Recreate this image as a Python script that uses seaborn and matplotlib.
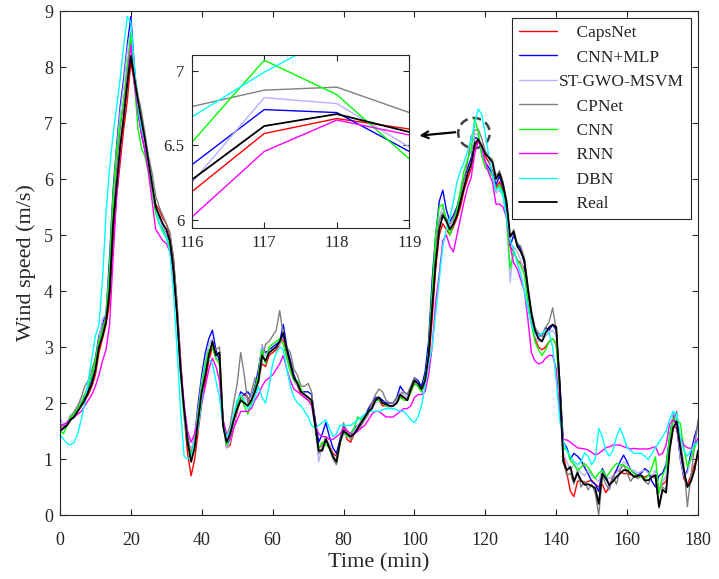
import numpy as np
import pandas as pd
import matplotlib
matplotlib.use('Agg')
import matplotlib.pyplot as plt
from matplotlib.patches import Ellipse
import seaborn as sns

# ==================== data (1 point per minute) ====================
time_min = list(range(0, 181))

real = [1.50, 1.55, 1.60, 1.70, 1.75, 1.85, 1.95, 2.05, 2.20, 2.35,
        2.60, 3.00, 3.20, 3.45, 4.00, 5.20, 5.90, 6.60, 7.10, 7.70,
        8.20, 7.80, 7.40, 7.05, 6.70, 6.30, 5.90, 5.50, 5.35, 5.20,
        5.10, 4.90, 4.40, 3.60, 2.60, 1.90, 1.30, 0.95, 1.20, 1.70,
        2.20, 2.50, 2.85, 3.10, 2.85, 2.90, 1.60, 1.30, 1.45, 1.70,
        1.90, 2.05, 2.00, 1.95, 2.05, 2.20, 2.40, 2.85, 2.75, 2.90,
        2.95, 3.00, 3.10, 3.25, 2.95, 2.70, 2.45, 2.35, 2.20, 2.15,
        2.10, 2.05, 1.60, 1.15, 1.15, 1.35, 1.20, 1.05, 0.95, 1.30,
        1.50, 1.45, 1.40, 1.45, 1.55, 1.65, 1.75, 1.85, 1.90, 2.05,
        2.10, 2.00, 1.98, 1.95, 1.95, 2.00, 2.15, 2.10, 2.05, 2.25,
        2.40, 2.35, 2.25, 2.40, 2.85, 3.70, 4.50, 5.10, 5.35, 5.25,
        5.10, 5.20, 5.35, 5.60, 5.85, 6.10, 6.27, 6.63, 6.71, 6.59,
        6.45, 6.38, 6.30, 6.00, 6.10, 5.90, 5.60, 4.97, 5.06, 4.80,
        4.70, 4.55, 4.05, 3.60, 3.30, 3.15, 3.10, 3.25, 3.35, 3.40,
        3.36, 2.30, 0.95, 0.80, 0.86, 0.60, 0.75, 0.62, 0.54, 0.55,
        0.52, 0.48, 0.20, 0.74, 0.65, 0.54, 0.60, 0.68, 0.74, 0.80,
        0.80, 0.74, 0.68, 0.70, 0.71, 0.62, 0.62, 0.68, 0.71, 0.15,
        0.45, 0.40, 1.16, 1.55, 1.67, 1.20, 0.80, 0.50, 0.60, 0.80,
        1.15]

capsnet = [1.55, 1.60, 1.65, 1.72, 1.78, 1.85, 1.95, 2.05, 2.15, 2.30,
           2.50, 2.90, 3.15, 3.40, 3.80, 4.90, 5.70, 6.30, 6.90, 7.40,
           8.10, 7.70, 7.30, 7.00, 6.60, 6.20, 5.85, 5.55, 5.45, 5.30,
           5.20, 5.00, 4.60, 3.80, 2.80, 1.80, 1.10, 0.70, 1.00, 1.50,
           2.00, 2.40, 2.75, 3.00, 2.80, 2.70, 1.70, 1.20, 1.25, 1.55,
           1.85, 2.10, 2.15, 2.10, 2.00, 2.30, 2.45, 2.70, 2.65, 2.85,
           2.90, 2.95, 3.05, 3.15, 2.85, 2.65, 2.40, 2.30, 2.15, 2.10,
           2.05, 2.00, 1.70, 1.20, 1.25, 1.35, 1.25, 1.10, 1.05, 1.30,
           1.55, 1.35, 1.30, 1.45, 1.50, 1.60, 1.75, 1.85, 1.95, 2.05,
           2.05, 1.95, 1.95, 1.95, 1.95, 2.00, 2.10, 2.10, 2.05, 2.20,
           2.35, 2.30, 2.20, 2.35, 2.70, 3.50, 4.40, 5.00, 5.20, 5.10,
           5.00, 5.15, 5.30, 5.50, 5.80, 6.00, 6.19, 6.58, 6.68, 6.61,
           6.40, 6.30, 6.15, 5.85, 5.95, 5.80, 5.50, 4.80, 4.70, 4.55,
           4.50, 4.40, 3.90, 3.45, 3.15, 3.00, 2.95, 3.00, 3.10, 3.15,
           3.05, 2.30, 1.10, 0.75, 0.42, 0.33, 0.60, 0.62, 0.57, 0.60,
           0.62, 0.55, 0.50, 0.55, 0.40, 0.50, 0.70, 0.80, 0.78, 0.74,
           0.74, 0.72, 0.70, 0.68, 0.70, 0.68, 0.71, 0.70, 0.71, 0.45,
           0.55, 0.60, 1.20, 1.58, 1.55, 1.10, 0.65, 0.55, 0.70, 0.90,
           1.07]

cnn_mlp = [1.50, 1.55, 1.65, 1.75, 1.80, 1.90, 2.00, 2.10, 2.25, 2.45,
           2.80, 3.20, 3.40, 3.60, 4.60, 5.80, 6.60, 7.30, 7.80, 8.40,
           8.90, 8.00, 7.20, 6.80, 6.50, 6.20, 5.80, 5.50, 5.35, 5.15,
           5.00, 4.90, 4.50, 3.70, 2.70, 1.90, 1.40, 1.10, 1.40, 2.00,
           2.50, 2.90, 3.15, 3.30, 2.95, 2.75, 1.70, 1.25, 1.35, 1.65,
           2.00, 2.20, 2.15, 2.20, 2.10, 2.30, 2.60, 3.00, 2.90, 2.95,
           3.00, 3.05, 3.10, 3.40, 3.00, 2.75, 2.50, 2.35, 2.20, 2.20,
           2.20, 2.15, 1.70, 1.30, 1.45, 1.65, 1.40, 1.20, 1.10, 1.35,
           1.60, 1.50, 1.45, 1.55, 1.60, 1.65, 1.75, 1.90, 2.00, 2.10,
           2.10, 2.05, 2.00, 2.00, 2.00, 2.10, 2.30, 2.20, 2.15, 2.30,
           2.45, 2.40, 2.30, 2.55, 3.10, 4.20, 5.00, 5.60, 5.80, 5.45,
           5.25, 5.35, 5.50, 5.75, 6.00, 6.20, 6.37, 6.74, 6.72, 6.46,
           6.30, 6.20, 6.10, 5.90, 6.05, 5.85, 5.40, 4.80, 5.00, 4.85,
           4.75, 4.50, 4.00, 3.55, 3.30, 3.20, 3.20, 3.35, 3.30, 3.40,
           3.30, 2.40, 1.30, 1.20, 1.00, 1.10, 1.05, 0.98, 0.85, 0.74,
           0.60, 0.55, 0.42, 0.83, 0.70, 0.51, 0.65, 0.80, 0.95, 1.07,
           0.95, 0.80, 0.75, 0.71, 0.75, 0.83, 0.78, 0.60, 0.50, 0.70,
           0.75, 0.90, 1.40, 1.79, 1.60, 1.00, 0.68, 0.80, 1.10, 1.40,
           1.60]

st_gwo_msvm = [1.75, 1.60, 1.65, 1.80, 1.75, 1.85, 2.10, 2.15, 2.30, 2.50,
               2.75, 3.15, 3.50, 3.60, 4.40, 5.60, 6.50, 7.20, 7.70, 8.30,
               8.70, 7.90, 7.30, 6.90, 6.60, 6.20, 5.80, 5.40, 5.30, 5.15,
               5.00, 4.80, 4.30, 3.50, 2.50, 1.70, 1.35, 1.15, 1.40, 1.90,
               2.40, 2.75, 3.05, 3.15, 2.80, 2.70, 1.60, 1.20, 1.30, 1.60,
               1.90, 2.05, 2.10, 2.05, 2.10, 2.25, 2.50, 3.05, 2.85, 2.95,
               2.95, 3.00, 3.05, 3.20, 2.90, 2.65, 2.40, 2.30, 2.20, 2.10,
               2.10, 2.00, 1.55, 0.95, 1.25, 1.30, 1.25, 1.05, 0.90, 1.30,
               1.45, 1.40, 1.40, 1.50, 1.60, 1.70, 1.80, 1.85, 1.90, 2.00,
               2.05, 2.00, 1.95, 1.90, 1.95, 2.05, 2.20, 2.15, 2.10, 2.30,
               2.40, 2.30, 2.20, 2.40, 2.90, 3.90, 4.80, 5.30, 5.50, 5.30,
               5.15, 5.25, 5.40, 5.65, 5.95, 6.10, 6.25, 6.82, 6.78, 6.49,
               6.30, 6.10, 6.05, 5.75, 5.80, 5.70, 5.30, 4.15, 4.80, 4.70,
               4.55, 4.30, 3.85, 3.45, 3.20, 3.10, 3.10, 3.20, 3.25, 3.30,
               3.20, 2.20, 1.10, 0.95, 0.80, 0.90, 0.85, 0.75, 0.70, 0.80,
               0.70, 0.65, 0.60, 0.80, 0.70, 0.65, 0.70, 0.75, 0.85, 0.95,
               0.90, 0.80, 0.80, 0.75, 0.78, 0.80, 0.75, 0.70, 0.80, 0.40,
               0.60, 0.70, 1.30, 1.85, 1.70, 1.00, 0.70, 0.75, 1.00, 1.30,
               1.55]

cpnet = [1.55, 1.60, 1.65, 1.75, 1.85, 1.95, 2.10, 2.30, 2.40, 2.60,
         2.80, 3.10, 3.35, 3.55, 4.20, 5.30, 6.20, 6.90, 7.40, 8.00,
         8.50, 7.90, 7.50, 7.20, 6.80, 6.40, 6.10, 5.70, 5.50, 5.35,
         5.20, 5.05, 4.60, 3.80, 2.80, 1.90, 1.40, 1.10, 1.30, 1.80,
         2.30, 2.60, 2.90, 3.05, 2.95, 3.00, 1.70, 1.40, 1.60, 2.00,
         2.35, 2.90, 2.50, 2.00, 2.20, 2.45, 2.35, 2.75, 3.05, 3.10,
         3.20, 3.30, 3.65, 3.20, 3.00, 2.90, 2.60, 2.50, 2.30, 2.30,
         2.35, 2.20, 1.60, 1.10, 1.20, 1.40, 1.20, 1.00, 0.90, 1.25,
         1.65, 1.45, 1.35, 1.45, 1.50, 1.60, 1.70, 1.80, 2.00, 2.15,
         2.25, 2.20, 2.05, 2.00, 2.00, 2.10, 2.15, 2.20, 2.15, 2.30,
         2.45, 2.35, 2.20, 2.40, 2.85, 3.85, 4.80, 5.25, 5.40, 5.30,
         5.20, 5.30, 5.45, 5.70, 6.00, 6.30, 6.76, 6.87, 6.89, 6.72,
         6.50, 6.40, 6.35, 6.05, 6.15, 5.95, 5.55, 4.95, 5.10, 4.85,
         4.80, 4.60, 4.10, 3.65, 3.35, 3.25, 3.20, 3.35, 3.45, 3.70,
         3.30, 2.30, 0.95, 0.70, 0.75, 0.55, 0.80, 0.50, 0.60, 0.45,
         0.55, 0.40, 0.00, 0.70, 0.55, 0.45, 0.70, 0.55, 0.80, 0.90,
         0.75, 0.60, 0.70, 0.65, 0.70, 0.60, 0.55, 0.70, 0.65, 0.12,
         0.50, 0.45, 1.20, 1.70, 1.85, 1.30, 0.90, 0.15, 0.70, 1.20,
         1.70]

cnn = [1.50, 1.45, 1.60, 1.75, 1.80, 1.90, 2.00, 2.15, 2.30, 2.50,
       2.75, 3.10, 3.30, 3.50, 4.40, 5.70, 6.50, 7.00, 7.40, 8.00,
       8.60, 7.70, 6.90, 6.55, 6.40, 6.10, 5.80, 5.40, 5.20, 5.10,
       4.95, 4.80, 4.40, 3.60, 2.60, 1.80, 1.30, 1.05, 1.30, 1.80,
       2.30, 2.70, 2.95, 3.00, 2.80, 2.70, 1.60, 1.25, 1.40, 1.70,
       2.00, 2.15, 1.95, 1.80, 2.00, 2.25, 2.50, 2.95, 2.70, 3.00,
       3.05, 3.10, 3.15, 3.05, 2.80, 2.55, 2.40, 2.40, 2.25, 2.15,
       2.10, 2.00, 1.55, 1.20, 1.30, 1.25, 1.20, 1.05, 0.95, 1.30,
       1.50, 1.40, 1.45, 1.55, 1.75, 1.70, 1.75, 1.85, 1.90, 2.05,
       2.05, 2.00, 1.95, 1.95, 1.95, 2.00, 2.10, 2.05, 2.05, 2.20,
       2.35, 2.30, 2.20, 2.45, 2.90, 4.00, 5.00, 5.50, 5.55, 5.25,
       5.00, 5.20, 5.45, 5.80, 6.15, 6.35, 6.52, 7.07, 6.84, 6.41,
       6.20, 6.15, 6.05, 5.80, 5.90, 5.75, 5.30, 4.40, 4.70, 4.55,
       4.45, 4.30, 3.80, 3.40, 3.10, 2.95, 2.85, 2.95, 3.10, 3.15,
       3.05, 2.20, 1.20, 1.16, 0.98, 0.90, 0.80, 0.85, 0.92, 0.85,
       0.75, 0.65, 0.75, 0.80, 0.68, 0.75, 0.85, 0.92, 0.90, 0.89,
       0.85, 0.80, 0.74, 0.70, 0.68, 0.65, 0.70, 0.85, 1.04, 0.39,
       0.70, 0.86, 1.40, 1.73, 1.68, 1.64, 1.20, 0.86, 1.00, 1.20,
       1.34]

rnn = [1.60, 1.62, 1.65, 1.70, 1.75, 1.80, 1.85, 1.95, 2.05, 2.15,
       2.30, 2.50, 2.75, 2.95, 3.40, 4.60, 5.70, 6.50, 7.20, 7.80,
       8.40, 7.70, 7.20, 6.80, 6.50, 6.10, 5.60, 5.10, 5.00, 4.90,
       4.85, 4.70, 4.30, 3.60, 2.70, 2.00, 1.50, 1.30, 1.45, 1.70,
       2.00, 2.30, 2.60, 2.80, 2.65, 2.40, 1.70, 1.45, 1.35, 1.55,
       1.70, 1.85, 1.85, 1.85, 1.90, 2.05, 2.15, 2.30, 2.40, 2.45,
       2.50, 2.60, 2.70, 2.85, 2.60, 2.40, 2.25, 2.20, 2.15, 2.10,
       2.05, 1.95, 1.60, 1.45, 1.40, 1.40, 1.35, 1.35, 1.40, 1.45,
       1.55, 1.50, 1.45, 1.45, 1.50, 1.55, 1.60, 1.70, 1.80, 1.85,
       1.85, 1.80, 1.75, 1.75, 1.75, 1.80, 1.85, 1.90, 1.90, 1.95,
       2.10, 2.15, 2.15, 2.20, 2.50, 3.00, 3.80, 4.30, 4.90, 5.00,
       4.80, 4.70, 5.00, 5.30, 5.60, 5.85, 6.02, 6.46, 6.67, 6.57,
       6.30, 6.10, 5.95, 5.55, 5.55, 5.50, 5.30, 4.80, 4.50, 4.40,
       4.20, 4.00, 3.50, 2.90, 2.75, 2.70, 2.72, 2.80, 2.85, 2.85,
       2.60, 1.80, 1.35, 1.34, 1.30, 1.25, 1.20, 1.19, 1.18, 1.16,
       1.12, 1.07, 1.10, 1.15, 1.20, 1.22, 1.25, 1.25, 1.25, 1.22,
       1.20, 1.18, 1.19, 1.18, 1.18, 1.18, 1.18, 1.20, 1.22, 1.07,
       1.10, 1.25, 1.63, 1.70, 1.60, 1.40, 1.25, 1.20, 1.19, 1.25,
       1.37]

dbn = [1.45, 1.35, 1.28, 1.25, 1.30, 1.45, 1.70, 2.00, 2.40, 2.80,
       3.20, 3.40, 4.20, 5.40, 6.20, 6.80, 7.30, 7.80, 8.40, 8.90,
       8.80, 8.00, 7.30, 6.90, 6.70, 6.30, 5.90, 5.50, 5.20, 5.05,
       4.95, 4.70, 4.00, 3.00, 1.90, 1.05, 1.00, 1.05, 1.30, 1.55,
       2.05, 2.60, 2.80, 2.70, 2.40, 2.10, 1.60, 1.40, 1.50, 1.80,
       2.05, 2.15, 2.05, 1.90, 1.95, 2.10, 2.30, 2.10, 2.00, 2.30,
       2.70, 2.90, 3.00, 2.95, 2.60, 2.30, 2.10, 2.00, 1.95, 1.85,
       1.75, 1.60, 1.55, 1.60, 1.65, 1.70, 1.55, 1.40, 1.45, 1.60,
       1.60, 1.60, 1.60, 1.65, 1.70, 1.75, 1.80, 1.85, 1.85, 1.85,
       1.85, 1.88, 1.90, 1.90, 1.90, 1.88, 1.85, 1.85, 1.78, 1.70,
       1.65, 1.75, 1.95, 2.30, 2.70, 3.00, 3.60, 4.20, 4.80, 5.10,
       5.30, 5.60, 5.95, 6.15, 6.30, 6.50, 6.69, 6.99, 7.25, 7.15,
       6.80, 6.40, 6.10, 5.80, 5.85, 5.70, 5.30, 4.90, 4.75, 4.50,
       4.30, 4.00, 3.70, 3.40, 3.25, 3.20, 3.25, 3.30, 3.25, 3.00,
       2.40, 1.70, 1.30, 1.15, 1.05, 0.95, 0.90, 0.95, 1.11, 1.05,
       0.90, 1.00, 1.55, 1.40, 1.15, 1.05, 1.15, 1.40, 1.55, 1.40,
       1.20, 1.15, 1.10, 1.10, 1.10, 1.05, 0.99, 1.10, 1.20, 1.30,
       1.40, 1.50, 1.70, 1.85, 1.80, 1.40, 1.15, 1.05, 1.15, 1.25,
       1.32]

models = ['CapsNet', 'CNN+MLP', 'ST-GWO-MSVM', 'CPNet', 'CNN', 'RNN', 'DBN', 'Real']
colors = ['#FF0000', '#0000FF', '#B3B3FF', '#808080', '#00FF00', '#FF00FF', '#00FFFF', '#000000']
widths = [1.0, 1.0, 1.0, 1.0, 1.0, 1.0, 1.0, 1.3]

# long-form table for seaborn
values = [capsnet, cnn_mlp, st_gwo_msvm, cpnet, cnn, rnn, dbn, real]
df = pd.concat([pd.DataFrame({'time': time_min, 'speed': v, 'model': m})
                for m, v in zip(models, values)], ignore_index=True)

# ==================== style ====================
sns.set_style('ticks')
plt.rcParams['font.family'] = ['Liberation Serif', 'DejaVu Serif']


def style_axes(a, size, xpad=5):
    for s in a.spines.values():
        s.set_visible(True)
        s.set_color('0.15')
        s.set_linewidth(0.8)
    a.tick_params(direction='in', top=True, right=True, length=4,
                  width=0.8, color='0.15', labelsize=size, pad=5)
    a.tick_params(axis='x', pad=xpad)


fig = plt.figure(figsize=(7.19, 5.79), dpi=100)
ax = fig.add_axes([0.0834, 0.1105, 0.8874, 0.8705])

for m, c, w in zip(models, colors, widths):
    # legend texts sit a little right of the handles, except the long one
    lab = m if m == 'ST-GWO-MSVM' else '    ' + m
    sns.lineplot(data=df[df['model'] == m], x='time', y='speed', color=c,
                 linewidth=w, label=lab, ax=ax, errorbar=None)

ax.set_xlim(0, 180)
ax.set_ylim(0, 9)
ax.set_xticks(range(0, 181, 20))
ax.set_yticks(range(0, 10))
ax.set_xlabel('Time (min)', fontsize=16, labelpad=3)
ax.set_ylabel('Wind speed (m/s)', fontsize=16, labelpad=6)
style_axes(ax, 13, xpad=12)

leg = ax.legend(loc='upper right', frameon=True, fancybox=False, edgecolor='0.15',
                framealpha=1, fontsize=12.5, handlelength=2.2, handletextpad=0.1,
                labelspacing=0.48, borderpad=0.4, borderaxespad=0.4)
leg.get_frame().set_linewidth(0.8)

# dashed circle around the peak and arrow to the zoomed view
ax.add_patch(Ellipse((116.8, 6.82), width=8.9, height=0.54, fill=False,
                     edgecolor='0.25', linestyle=(0, (3.5, 2)), linewidth=1.8))
ax.annotate('', xy=(100.6, 6.77), xytext=(112.3, 6.84),
            arrowprops=dict(arrowstyle='->', color='k', lw=1.6, mutation_scale=12))

# ==================== inset ====================
axin = fig.add_axes([0.2666, 0.6067, 0.3027, 0.2983])
for m, c, w in zip(models, colors, widths):
    sns.lineplot(data=df[df['model'] == m], x='time', y='speed', color=c,
                 linewidth=w, legend=False, ax=axin, errorbar=None)
axin.set_xlim(116, 119)
axin.set_ylim(5.95, 7.105)
axin.set_xticks([116, 117, 118, 119])
axin.set_yticks([6, 6.5, 7])
axin.set_yticklabels(['6', '6.5', '7'])
axin.set_xlabel('')
axin.set_ylabel('')
style_axes(axin, 12, xpad=5)

plt.savefig('out.png', dpi=100)
plt.close()
